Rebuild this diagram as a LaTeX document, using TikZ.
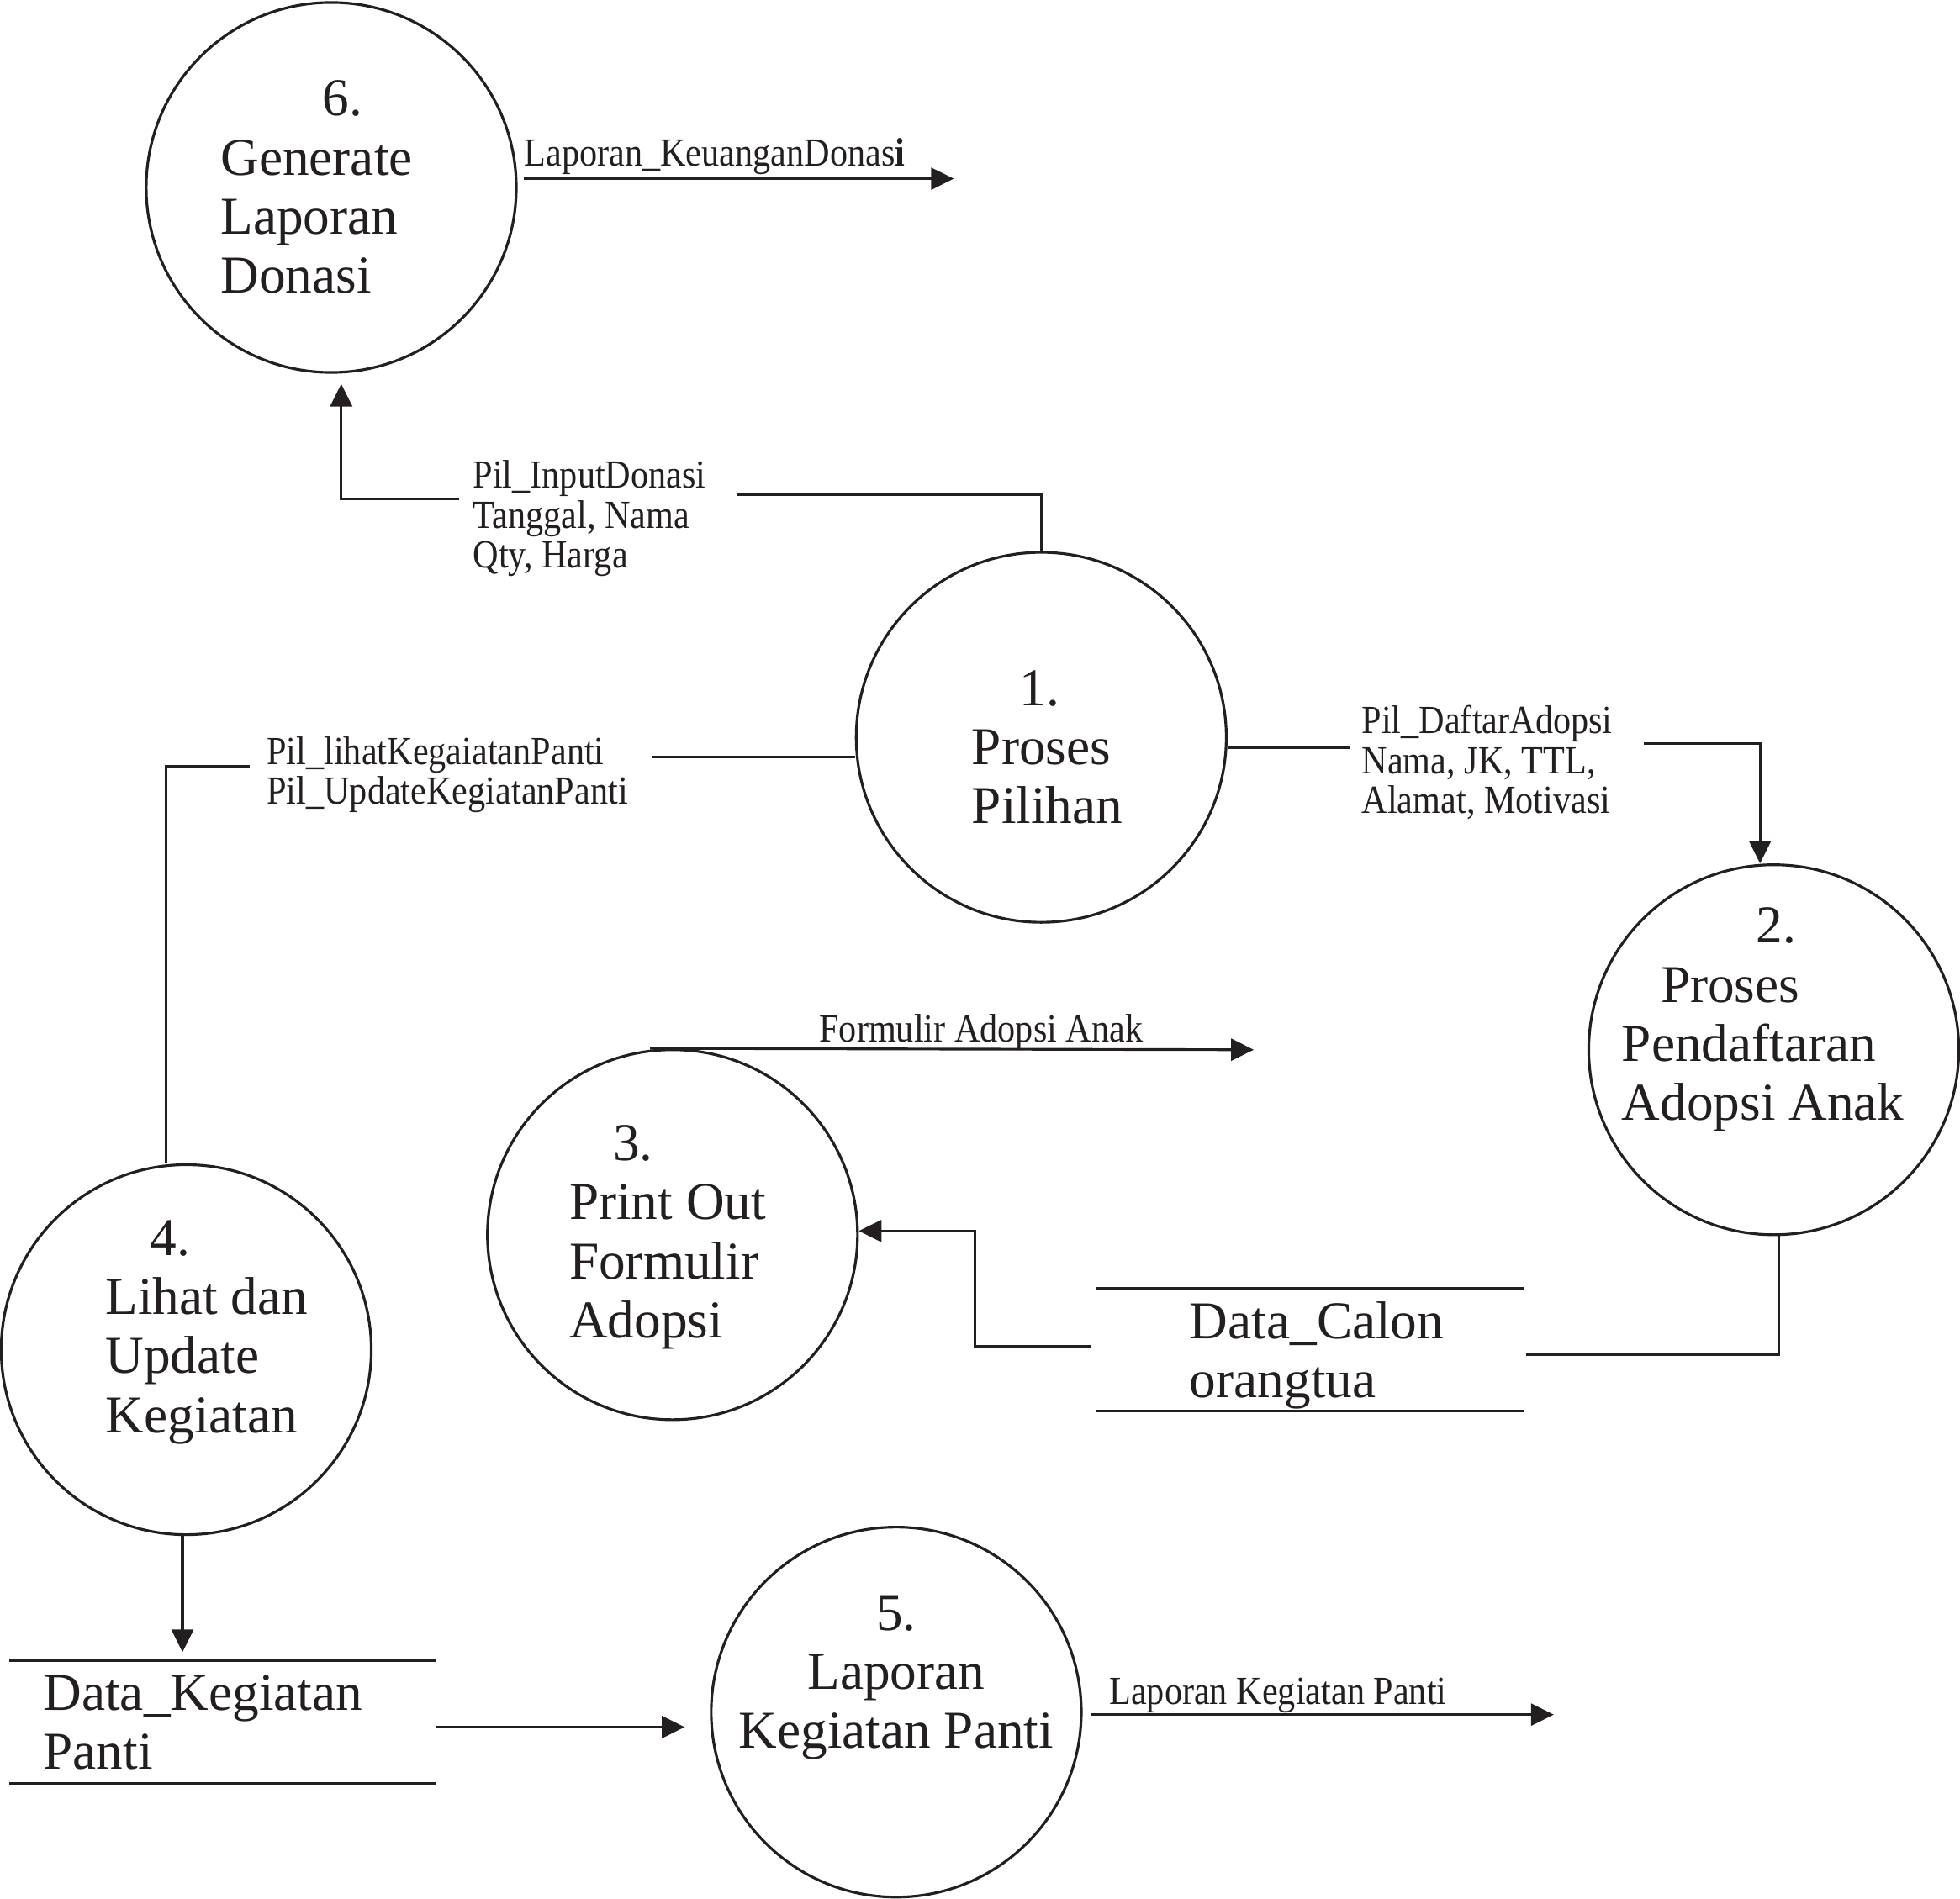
\documentclass[tikz,border=0pt]{standalone}
\usepackage{fontspec}
\setmainfont{Liberation Serif}
\newfontfamily\flowfont[FakeStretch=0.89]{Liberation Serif}
\usetikzlibrary{arrows.meta,positioning}
\definecolor{ink}{RGB}{35,31,32}

\begin{document}
\begin{tikzpicture}[
    x=0.014866cm, y=-0.014866cm,
    proc/.style={draw=ink, circle, line width=0.9pt, minimum size=4.4cm, inner sep=0pt},
    ptext/.style={text=ink, inner sep=0pt, align=left, font=\fontsize{18}{20}\selectfont},
    store/.style={minimum width=5.06cm, minimum height=1.45cm, inner sep=0pt},
    lbl/.style={text=ink, inner sep=0pt, align=left, font=\flowfont\fontsize{13.5}{13.5}\selectfont},
    flow/.style={draw=ink, line width=0.9pt},
    arrow/.style={flow, -{Triangle[length=2.7mm, width=2.6mm]}}
]
\useasboundingbox (0,0) rectangle (1568,1519);

% Processes
\node[proc] (p6) at (265,150) {};
\node[proc] (p1) at (833,590) {};
\node[proc] (p2) at (1419,840) {};
\node[proc] (p3) at (538,988) {};
\node[proc] (p4) at (149,1080) {};
\node[proc] (p5) at (717,1370) {};

\node[ptext, anchor=north west] (t6) at (176,64) {\hspace*{1.92em}6.\\Generate\\Laporan\\Donasi};
\node[ptext, anchor=north west] (t1) at (777,536) {\hspace*{0.9em}1.\\Proses\\Pilihan};
\node[ptext, anchor=north west] (t2) at (1297,726) {\hspace*{2.53em}2.\\\hspace*{0.73em}Proses\\Pendaftaran\\Adopsi Anak};
\node[ptext, anchor=north west] (t3) at (455,900) {\hspace*{0.82em}3.\\Print Out\\Formulir\\Adopsi};
\node[ptext, anchor=north west] (t4) at (84,976) {\hspace*{0.84em}4.\\Lihat dan\\Update\\Kegiatan};
\node[ptext, align=center, anchor=north] (t5) at (717,1276) {5.\\Laporan\\Kegiatan Panti};

% Data stores
\node[store] (ds1) at (1048,1080) {};
\node[store] (ds2) at (178,1378) {};
\foreach \s in {ds1,ds2}
    \draw[flow] (\s.north west) -- (\s.north east) (\s.south west) -- (\s.south east);
\node[ptext, right=1.1cm of ds1.west, yshift=-0.07cm] (ds1t) {Data\_Calon\\orangtua};
\node[ptext, right=0.4cm of ds2.west] (ds2t) {Data\_Kegiatan\\Panti};

% Flows
\coordinate (o6) at (763,143);
\draw[arrow, shorten <=0.07cm] (o6 -| p6.east) -- (o6);
\node[lbl, anchor=base west] (l6) at (419,133) {Laporan\_KeuanganDonas\textbf{i}};

\coordinate (c16r) at (590,396);
\coordinate (c16l) at (367,399);
\draw[flow] (p1.north) |- (c16r);
\draw[arrow, shorten >=0.12cm] (c16l) -| ([shift={(8,0)}]p6.south);
\node[lbl, anchor=north west] (l16) at (378,368) {Pil\_InputDonasi\\Tanggal, Nama\\Qty, Harga};

\coordinate (c14r) at (522,606);
\coordinate (c14l) at (200,613);
\draw[flow] (p1.west |- c14r) -- (c14r);
\draw[flow] (c14l) -| ([shift={(-16,0)}]p4.north);
\node[lbl, anchor=north west] (l14) at (213,589) {Pil\_lihatKegaiatanPanti\\Pil\_UpdateKegiatanPanti};

\coordinate (c12l) at (1080,598);
\coordinate (c12r) at (1315,595);
\draw[flow] (p1.east |- c12l) -- (c12l);
\draw[arrow] (c12r) -| ([shift={(-11,0)}]p2.north);
\node[lbl, anchor=north west] (l12) at (1089,564) {Pil\_DaftarAdopsi\\Nama, JK, TTL,\\Alamat, Motivasi};

\draw[flow] ([shift={(4,0)}]p2.south) |- ([shift={(2,4)}]ds1.east);

\coordinate (c31) at (780,985);
\draw[arrow] ([shift={(-4,-3)}]ds1.west) -| (c31) -- (c31 -| p3.east);

\coordinate (o3) at (1003,840);
\draw[arrow] ([shift={(-18,0)}]p3.north) -- (o3);
\node[lbl, anchor=base west] (l3) at (655,834) {Formulir Adopsi Anak};

\draw[arrow, shorten >=0.1cm] ([shift={(-3,0)}]p4.south) -- ([shift={(-3,0)}]p4.south |- ds2.north);
\draw[arrow, shorten >=0.3cm] ([shift={(0,4)}]ds2.east) -- ([shift={(0,4)}]ds2.east -| p5.west);

\coordinate (o5) at (1243,1372);
\draw[arrow, shorten <=0.1cm] (o5 -| p5.east) -- (o5);
\node[lbl, anchor=base west] (l5) at (887,1364) {Laporan Kegiatan Panti};
\end{tikzpicture}
\end{document}
